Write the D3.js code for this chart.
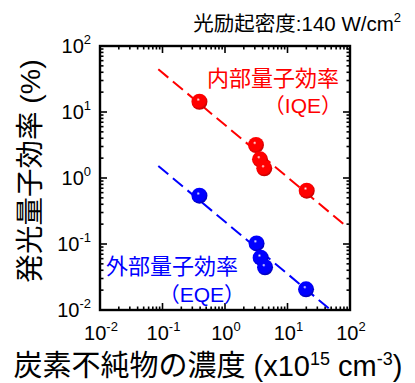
<!DOCTYPE html>
<html><head><meta charset="utf-8">
<script src="https://cdn.jsdelivr.net/npm/d3@7"></script>
<style>
body{margin:0;background:#fff;}
text{font-family:"Liberation Sans","Noto Sans CJK JP",Arial,sans-serif;}
</style></head>
<body><svg id="c" width="415" height="383"></svg>
<script>
const concentration = [0.39, 3.13, 3.63, 4.25, 20.3];
const iqe = [14.3, 3.16, 1.92, 1.40, 0.643];
const concentrationEqe = [0.39, 3.2, 3.72, 4.37, 19.8];
const eqe = [0.54, 0.102, 0.062, 0.0444, 0.0206];
const fitX = [0.0857, 88.5];
const iqeFit = [44.4, 0.183];
const eqeFit = [1.52, 0.00628];
const tickExps = [-2, -1, 0, 1, 2];
const title = "光励起密度:140 W/cm";
const yLabel = "発光量子効率 (%)";
const xLabel = "炭素不純物の濃度 (x10";
const iqeLabel = ["内部量子効率", "（IQE）"];
const eqeLabel = ["外部量子効率", "（EQE）"];

const svg = d3.select("#c");
const L = 100, R = 350, T = 46, B = 310;
const x = d3.scaleLog().domain([0.01, 100]).range([L, R]);
const y = d3.scaleLog().domain([0.01, 100]).range([B, T]);

const defs = svg.append("defs");
function grad(id, c, dark){
  const g = defs.append("radialGradient").attr("id", id)
    .attr("cx", "45%").attr("cy", "42%").attr("r", "62%").attr("fx", "42%").attr("fy", "36%");
  g.append("stop").attr("offset", "0%").attr("stop-color", "#ffffff");
  g.append("stop").attr("offset", "18%").attr("stop-color", c);
  g.append("stop").attr("offset", "70%").attr("stop-color", c);
  g.append("stop").attr("offset", "100%").attr("stop-color", dark);
}
grad("gr", "#ff0000", "#a80000");
grad("gb", "#0000ff", "#00009a");
defs.append("clipPath").attr("id", "clip").append("rect")
  .attr("x", L).attr("y", T).attr("width", R - L).attr("height", B - T);

// axes with inward ticks on all sides
const minor = [];
for (let e = -2; e < 2; e++) for (let k = 2; k <= 9; k++) minor.push(k * Math.pow(10, e));
const major = tickExps.map(e => Math.pow(10, e));
const ax = svg.append("g").attr("stroke", "#000").attr("stroke-width", 1.6);
function ticks(vals, len){
  vals.forEach(v => {
    const px = x(v), py = y(v);
    ax.append("line").attr("x1", px).attr("x2", px).attr("y1", B).attr("y2", B - len);
    ax.append("line").attr("x1", px).attr("x2", px).attr("y1", T).attr("y2", T + len);
    ax.append("line").attr("y1", py).attr("y2", py).attr("x1", L).attr("x2", L + len);
    ax.append("line").attr("y1", py).attr("y2", py).attr("x1", R).attr("x2", R - len);
  });
}
ticks(major, 7);
ticks(minor, 3.5);
svg.append("rect").attr("x", L).attr("y", T).attr("width", R - L).attr("height", B - T)
  .attr("fill", "none").attr("stroke", "#000").attr("stroke-width", 2.4);

// tick labels
function sup(sel, base, exp){
  sel.append("tspan").text(base);
  sel.append("tspan").attr("dy", -9).attr("font-size", 13).text(exp);
}
tickExps.forEach(e => {
  const lab = e < 0 ? "-" + (-e) : "" + e;
  const tx = svg.append("text").attr("x", x(Math.pow(10, e)) + 1).attr("y", 340)
    .attr("text-anchor", "middle").attr("font-size", 20);
  sup(tx, "10", lab);
  const ty = svg.append("text").attr("x", 91).attr("y", y(Math.pow(10, e)) + 7)
    .attr("text-anchor", "end").attr("font-size", 20);
  sup(ty, "10", lab);
});

// fit lines
const line = d3.line().x(d => x(d[0])).y(d => y(d[1]));
const plot = svg.append("g").attr("clip-path", "url(#clip)");
plot.append("path").datum(fitX.map((v, i) => [v, iqeFit[i]])).attr("d", line)
  .attr("fill", "none").attr("stroke", "#ff0000").attr("stroke-width", 2).attr("stroke-dasharray", "13,6");
plot.append("path").datum(fitX.map((v, i) => [v, eqeFit[i]])).attr("d", line)
  .attr("fill", "none").attr("stroke", "#0000ff").attr("stroke-width", 2).attr("stroke-dasharray", "13,6");

// points
svg.append("g").selectAll("circle").data(concentration.map((v, i) => [v, iqe[i]])).join("circle")
  .attr("cx", d => x(d[0])).attr("cy", d => y(d[1])).attr("r", 8).attr("fill", "url(#gr)");
svg.append("g").selectAll("circle").data(concentrationEqe.map((v, i) => [v, eqe[i]])).join("circle")
  .attr("cx", d => x(d[0])).attr("cy", d => y(d[1])).attr("r", 8).attr("fill", "url(#gb)");

// annotations
svg.append("text").attr("x", 339).attr("y", 86).attr("text-anchor", "end").attr("font-size", 22)
  .attr("fill", "#ff0000").text(iqeLabel[0]);
svg.append("text").attr("x", 342).attr("y", 113).attr("text-anchor", "end").attr("font-size", 21)
  .attr("fill", "#ff0000").text(iqeLabel[1]);
svg.append("text").attr("x", 106).attr("y", 274).attr("text-anchor", "start").attr("font-size", 22)
  .attr("fill", "#0000ff").text(eqeLabel[0]);
svg.append("text").attr("x", 245).attr("y", 302).attr("text-anchor", "end").attr("font-size", 21)
  .attr("fill", "#0000ff").text(eqeLabel[1]);

// title
const tt = svg.append("text").attr("x", 401).attr("y", 31).attr("text-anchor", "end").attr("font-size", 20.5);
tt.append("tspan").text(title);
tt.append("tspan").attr("dy", -9).attr("font-size", 13).text("2");

// y label
svg.append("text").attr("transform", "translate(40,171) rotate(-90)").attr("text-anchor", "middle")
  .attr("font-size", 28.5).text(yLabel);

// x label
const xl = svg.append("text").attr("x", 208).attr("y", 376).attr("text-anchor", "middle").attr("font-size", 29);
xl.append("tspan").text(xLabel);
xl.append("tspan").attr("dy", -11).attr("font-size", 18).text("15");
xl.append("tspan").attr("dy", 11).text(" cm");
xl.append("tspan").attr("dy", -11).attr("font-size", 18).text("-3");
xl.append("tspan").attr("dy", 11).text(")");
</script></body></html>
